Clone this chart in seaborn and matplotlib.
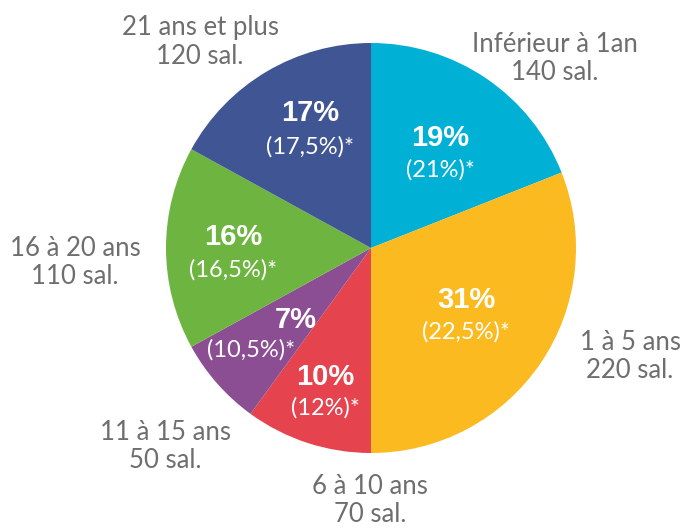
import matplotlib
matplotlib.use("Agg")
import matplotlib.pyplot as plt
import seaborn as sns

# données
categories = ["Inférieur à 1an", "1 à 5 ans", "6 à 10 ans", "11 à 15 ans", "16 à 20 ans", "21 ans et plus"]
salaries = [140, 220, 70, 50, 110, 120]
parts = [19, 31, 10, 7, 16, 17]
references = ["(21%)*", "(22,5%)*", "(12%)*", "(10,5%)*", "(16,5%)*", "(17,5%)*"]
couleurs = ["#00B0D5", "#FBBA1F", "#E5444E", "#8B4E92", "#6DB540", "#405593"]

sns.set_theme(style="white")
plt.rcParams['font.family'] = ['Lato', 'DejaVu Sans']

fig = plt.figure(figsize=(6.86, 5.29), dpi=100)
W, H = 686, 529
cx, cy, r = 371, 248, 205
ax = fig.add_axes([(cx - r) / W, (H - cy - r) / H, 2 * r / W, 2 * r / H])
ax.pie(parts, colors=couleurs, startangle=90, counterclock=False,
       wedgeprops=dict(linewidth=0))
ax.set_xlim(-1, 1)
ax.set_ylim(-1, 1)
ax.set_aspect('equal')
ax.axis('off')

def to_data(px, py):
    return (px - cx) / r, (cy - py) / r

# positions des étiquettes (pixels)
pos_ext = [(555, 58), (630, 357), (370, 500), (165, 447), (75, 262), (200, 42)]
pos_pct = [(440, 138), (466, 300), (325, 377), (296, 320), (233, 237), (310, 113)]
pos_ref = [(440, 170), (466, 332), (325, 408), (251, 350), (233, 270), (310, 147)]

gris = "#6E6E6E"
for i, cat in enumerate(categories):
    x, y = to_data(*pos_ext[i])
    ax.text(x, y, f"{cat}\n{salaries[i]} sal.", ha='center', va='center',
            fontsize=18.5, color=gris, linespacing=1.15)
    x, y = to_data(*pos_pct[i])
    ax.text(x, y, f"{parts[i]}%", ha='center', va='center', fontsize=21,
            fontweight='bold', color='white', family=['Liberation Sans', 'DejaVu Sans'])
    x, y = to_data(*pos_ref[i])
    ax.text(x, y, references[i], ha='center', va='center', fontsize=17, color='white')

fig.savefig("out.png", dpi=100)
